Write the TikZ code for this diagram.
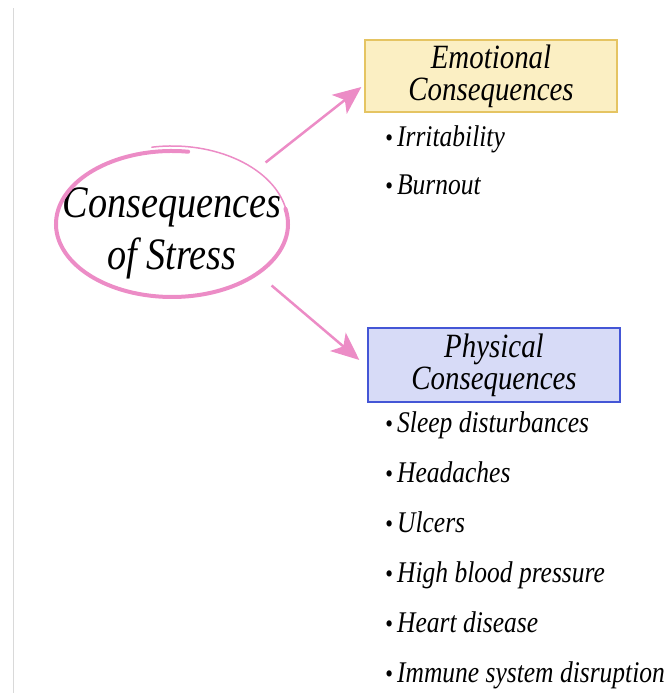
\documentclass[tikz,border=0pt]{standalone}
\usepackage{fontspec}
\setmainfont{Liberation Serif}
\usetikzlibrary{arrows.meta}
\definecolor{stresspink}{HTML}{EC8CC6}
\definecolor{emofill}{HTML}{FBEFC3}
\definecolor{emoline}{HTML}{E5C462}
\definecolor{physfill}{HTML}{D7DBF7}
\definecolor{physline}{HTML}{4456D6}
\newcommand\itemdot{{\fontsize{26pt}{26pt}\selectfont\textbullet}\,}

\begin{document}
\begin{tikzpicture}[x=1pt,y=1pt,
    narrow/.style={xscale=0.85,transform shape},
    title/.style={narrow,draw,line width=2pt,minimum width=296pt,inner sep=0pt,
      align=center,font=\fontsize{34pt}{32pt}\selectfont\itshape},
    entry/.style={narrow,anchor=base west,inner sep=0pt,
      font=\fontsize{30pt}{30pt}\selectfont\itshape},
    link/.style={stresspink,line width=2.5pt,
      -{Stealth[length=28pt,width=24pt,inset=7pt]}}]
  \useasboundingbox (0,0) rectangle (667,693);
  \draw[black!15,line width=1pt] (13,0) -- (13,685);
  % centre word and its pink ring
  \node[narrow,inner sep=0pt,align=center,font=\fontsize{45pt}{52pt}\selectfont\itshape]
    (stress) at (172,469) {\rule{0pt}{49pt}Consequences\\of Stress};
  \draw[stresspink,line width=4pt,line cap=round]
    ([shift={(82:116pt and 73pt)}]stress.center)
    arc[start angle=82,end angle=372,x radius=116pt,y radius=73pt];
  \draw[stresspink,line width=1.5pt,line cap=round]
    ([shift={(10:116pt and 78pt)}]stress.center)
    arc[start angle=10,end angle=100,x radius=116pt,y radius=78pt];
  % the two headings
  \node[title,fill=emofill,draw=emoline,minimum height=72pt] (emo) at (491,617)
    {Emotional\\Consequences};
  \node[title,fill=physfill,draw=physline,minimum height=74pt] (phys) at (494,328)
    {Physical\\Consequences};
  \draw[link] ([shift={(-16pt,6pt)}]stress.north east) -- ([shift={(-3pt,-11pt)}]emo.west);
  \draw[link] ([shift={(-10pt,-6pt)}]stress.south east) -- ([shift={(-8pt,5pt)}]phys.west);
  % lists
  \node[entry] (emo-0) at (385,546) {\itemdot Irritability};
  \node[entry] (emo-1) at (385,498) {\itemdot Burnout};
  \foreach \txt [count=\i from 0] in {Sleep disturbances,Headaches,Ulcers,
      High blood pressure,Heart disease,Immune system disruption}
    \node[entry] (phys-\i) at (385,{260-50*\i}) {\itemdot\txt};
\end{tikzpicture}
\end{document}
